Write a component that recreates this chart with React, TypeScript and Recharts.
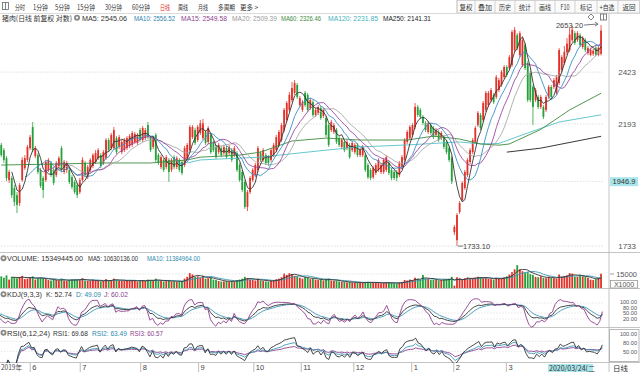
import React from 'react';
import { ComposedChart, Bar, Line, XAxis, YAxis, ReferenceLine, ReferenceDot } from 'recharts';

// ---------- data ----------
const opens = [
  2106,2085,2053,1968,1976,1938,1912,1883,1968,2014,
  2046,2093,2180,2061,2065,2007,1976,1968,2007,2034,
  2007,1987,2022,2093,1999,2007,2007,1979,1961,1949,
  1923,1968,2034,1979,2007,2022,2038,2053,2065,2034,
  2053,2126,2093,2093,2134,2098,2077,2085,2093,2102,
  2106,2118,2114,2167,2126,2134,2188,2134,2098,2147,
  2065,2018,2046,2018,2046,2007,2057,2018,2046,2038,
  2026,2053,2085,2138,2167,2126,2155,2134,2159,2118,
  2147,2114,2098,2077,2093,2073,2093,2073,2085,2065,
  2073,2026,1999,1961,1869,1923,1968,1987,2007,2073,
  2046,2065,2057,2046,2065,2085,2106,2126,2167,2210,
  2253,2296,2328,2364,2274,2253,2328,2319,2261,2287,
  2231,2240,2261,2227,2218,2188,2167,2159,2167,2134,
  2098,2118,2093,2106,2085,2077,2106,2065,2065,2065,
  2026,2007,1979,1995,2007,1999,1999,2007,2034,2007,
  1999,1999,1987,2018,2046,2118,2134,2147,2180,2266,
  2253,2223,2197,2159,2188,2176,2147,2159,2134,2138,
  2118,2093,2053,1780,1753,1851,1894,1938,1987,2038,
  2077,2118,2188,2231,2210,2253,2274,2296,2319,2310,
  2341,2364,2400,2447,2442,2456,2528,2602,2504,2456,
  2553,2466,2419,2355,2296,2310,2266,2266,2253,2310,
  2355,2355,2328,2373,2433,2466,2518,2528,2577,2612,
  2577,2602,2543,2577,2514,2505,2510,2540,2505,2510,
];
const highs = [
  2114,2093,2061,2007,1983,1949,1923,1957,2057,2065,
  2106,2147,2201,2102,2073,2014,1983,2046,2053,2042,
  2014,2042,2061,2102,2046,2042,2014,1987,1968,1957,
  1976,2057,2042,2026,2053,2073,2085,2093,2073,2085,
  2134,2134,2155,2180,2142,2147,2126,2134,2142,2151,
  2163,2159,2155,2176,2184,2176,2201,2142,2142,2155,
  2073,2065,2053,2065,2053,2053,2065,2061,2053,2046,
  2102,2114,2188,2188,2176,2188,2210,2214,2167,2184,
  2155,2122,2106,2114,2102,2106,2102,2106,2093,2102,
  2081,2034,2007,1968,1931,1983,2014,2034,2102,2081,
  2093,2073,2065,2093,2114,2147,2167,2197,2261,2292,
  2332,2377,2386,2373,2314,2296,2337,2328,2305,2296,
  2261,2274,2270,2261,2227,2197,2210,2197,2176,2142,
  2134,2126,2126,2114,2122,2114,2114,2093,2106,2073,
  2034,2014,2022,2034,2053,2034,2053,2065,2042,2014,
  2007,2007,2042,2065,2134,2167,2188,2197,2283,2274,
  2261,2231,2205,2205,2197,2184,2176,2167,2163,2147,
  2126,2102,2061,1805,1847,1890,1964,2007,2053,2093,
  2134,2184,2248,2240,2292,2337,2337,2350,2328,2410,
  2396,2433,2456,2456,2504,2628,2643,2612,2622,2587,
  2563,2475,2428,2364,2350,2319,2319,2274,2319,2364,
  2364,2396,2410,2538,2504,2548,2587,2638,2650,2622,
  2622,2612,2597,2587,2548,2540,2535,2550,2552,2653.2,
];
const lows = [
  2057,2034,1964,1957,1901,1872,1847,1872,1961,2007,
  2038,2085,2077,2053,1991,1938,1901,1961,1999,1979,
  1949,1979,2014,1999,1991,1995,1953,1934,1916,1901,
  1916,1961,1979,1972,1999,2014,2030,2046,2014,2026,
  2046,2077,2085,2085,2069,2089,2069,2077,2085,2093,
  2098,2110,2106,2118,2118,2126,2130,2077,2089,2038,
  2026,2010,1999,2010,1961,1999,2010,2010,1999,1987,
  2018,2046,2077,2130,2106,2118,2147,2126,2106,2110,
  2069,2077,2050,2069,2057,2065,2050,2065,2038,2057,
  1999,1961,1923,1862,1854,1916,1961,1979,1999,2038,
  2038,2026,2022,2038,2057,2077,2098,2118,2159,2201,
  2244,2287,2319,2301,2266,2244,2266,2244,2253,2223,
  2223,2231,2210,2218,2138,2098,2159,2151,2110,2098,
  2089,2077,2085,2050,2077,2069,2057,2057,2057,1999,
  1972,1968,1972,1987,1999,1991,1991,1999,1987,1968,
  1968,1964,1979,2010,2038,2110,2126,2138,2171,2223,
  2214,2188,2159,2151,2147,2130,2138,2118,2126,2089,
  2069,2038,1953,1770,1733.1,1844,1887,1931,1979,2030,
  2069,2110,2180,2167,2201,2244,2266,2287,2279,2301,
  2332,2355,2391,2400,2433,2447,2518,2528,2494,2447,
  2433,2287,2287,2188,2287,2257,2257,2214,2244,2301,
  2301,2346,2319,2364,2424,2456,2504,2518,2568,2553,
  2568,2543,2533,2518,2504,2498,2500,2498,2498,2502,
];
const closes = [
  2065,2046,1976,1999,1912,1887,1876,1949,2046,2053,
  2098,2138,2085,2093,1999,1946,1931,2038,2046,1987,
  1957,2034,2053,2007,2038,2034,1961,1942,1923,1912,
  1968,2046,1987,2018,2046,2065,2073,2085,2022,2077,
  2126,2085,2147,2167,2077,2138,2118,2126,2134,2142,
  2155,2151,2147,2126,2176,2167,2138,2085,2134,2046,
  2034,2057,2007,2057,1999,2046,2018,2053,2007,1995,
  2093,2106,2180,2180,2114,2180,2197,2197,2114,2176,
  2077,2085,2057,2106,2065,2098,2057,2098,2046,2093,
  2007,1968,1931,1869,1923,1976,2007,2026,2093,2046,
  2085,2034,2034,2085,2106,2138,2159,2188,2253,2283,
  2319,2350,2373,2310,2305,2287,2274,2253,2296,2231,
  2253,2266,2218,2253,2147,2106,2201,2188,2118,2106,
  2126,2085,2118,2057,2114,2106,2065,2085,2098,2007,
  1979,1976,2014,2026,2046,2026,2046,2057,1995,1976,
  1976,1976,2034,2057,2126,2159,2180,2188,2266,2231,
  2223,2197,2167,2197,2155,2138,2167,2126,2155,2098,
  2077,2046,1961,1798,1840,1883,1957,1999,2046,2085,
  2126,2176,2240,2176,2283,2328,2328,2341,2287,2400,
  2386,2424,2447,2410,2494,2617,2628,2538,2612,2577,
  2442,2296,2296,2266,2341,2266,2310,2223,2310,2355,
  2310,2386,2400,2528,2494,2520,2560,2605,2630,2563,
  2612,2553,2587,2528,2538,2530,2525,2505,2540,2625,
];
// volume, in thousands of shares
const volumes = [
  12500,11000,13500,9000,12000,11500,10500,12000,13000,9500,
  10000,11000,12500,9000,10000,11000,10500,9500,8500,8000,
  9000,8500,8000,10000,8000,7500,8500,9000,9500,9000,
  8500,10500,8000,7500,8000,8500,8000,7500,7000,7500,
  9500,8000,8500,10000,8500,8000,7500,8000,7500,8000,
  8500,7500,7000,8000,8500,7500,9000,8500,7500,10000,
  8000,7500,7000,7500,8500,7000,7000,6500,7000,7500,
  10000,12000,16000,14500,12000,12500,11000,13000,10000,10500,
  11000,9000,8500,7500,7000,7000,7500,7000,7500,7000,
  8500,9000,10000,12000,10500,9000,8500,8000,10000,8000,
  7500,7000,7000,8000,8500,9500,10000,11500,15500,14000,
  16000,15000,13000,12500,11000,10000,11500,11000,9500,10000,
  9000,8500,9000,8000,9500,10000,8000,7500,8000,7000,
  6500,6500,6000,6500,6000,5500,6000,5500,5500,6500,
  6500,6000,5500,5500,6000,5000,5500,6000,5500,5500,
  5000,5000,6000,6500,8500,8000,9000,8500,11000,10000,
  9000,14000,10000,9500,8500,9000,8500,8000,8500,9000,
  9500,10000,12000,2500,11500,10500,9500,10500,11000,10000,
  10500,11000,12000,11500,10500,11000,10000,9500,9000,11000,
  10000,10500,11500,12500,14500,17000,20000,24500,20000,18000,
  16500,17000,15000,14000,12000,11500,12500,11000,10500,12000,
  11000,10500,10000,14500,12000,13000,13500,16000,15500,12000,
  12000,13500,12500,11700,11000,9000,8500,9500,10800,15349,
];
// long moving averages as (candle index, value)
const ma60Known: [number, number][] = [
  [0,2026],[22,2030],[38,2034],[57,2034],[71,2046],[76,2057],[91,2065],[99,2077],
  [111,2122],[124,2134],[137,2126],[155,2126],[165,2142],[175,2130],[183,2110],
  [190,2105],[194,2110],[206,2170],[217,2253],[229,2326.46],
];
const ma120Known: [number, number][] = [
  [71,2034],[76,2046],[99,2057],[124,2085],[137,2098],[155,2106],[175,2118],
  [183,2110],[190,2112],[202,2159],[213,2201],[229,2231.85],
];
const ma250Known: [number, number][] = [[193,2077],[206,2093],[229,2141.31]];

const monthStarts = [12, 31, 54, 76, 97, 115, 135, 157, 173, 193];
const monthLabels = ['6', '7', '8', '9', '10', '11', '12', '1', '2', '3'];
const priceTicks = [1733, 2193, 2423];
const gridPrices = [1733, 1963, 2193, 2423];
const crossPrice = 1946.9;
const crossDate = '2020/03/24(二';
const highMark = { i: 229, v: 2653.2, label: '2653.20' };
const lowMark = { i: 174, v: 1733.1, label: '1733.10' };

// [text, colour, x, width]
const priceLegend = [
  ['MA5: 2545.06', '#333333', 82, 45], ['MA10: 2556.52', '#2d7fb0', 134, 41], ['MA15: 2549.58', '#8e3f8e', 181, 46],
  ['MA20: 2509.39', '#9a9a9a', 232, 45], ['MA60: 2326.46', '#3d8b3d', 281, 40], ['MA120: 2231.85', '#3fb3bb', 328, 50],
  ['MA250: 2141.31', '#222222', 383, 48],
] as const;
const volLegend = [['VOLUME: 15349445.00', '#333333', 7, 76], ['MA5: 10630136.00', '#333333', 88, 50], ['MA10: 11384964.00', '#2d8ab0', 147, 53]] as const;
const kdjLegend = [['KDJ(9,3,3)', '#333333', 7, 35], ['K: 52.74', '#333333', 46, 26], ['D: 49.09', '#2d8ab0', 76, 25], ['J: 60.02', '#8e3f8e', 104, 24]] as const;
const rsiLegend = [['RSI(6,12,24)', '#333333', 7, 43], ['RSI1: 69.68', '#333333', 53, 35], ['RSI2: 63.49', '#2d8ab0', 92, 35], ['RSI3: 60.57', '#8e3f8e', 130, 33]] as const;
const toolbarItems = [
  ['分时', 15, 10], ['1分钟', 33, 15], ['5分钟', 55, 15], ['15分钟', 77, 18], ['30分钟', 105, 17], ['60分钟', 132, 18],
  ['日线', 160, 10], ['周线', 178, 10], ['月线', 198, 10], ['多周期', 218, 17], ['更多 >', 240, 18],
] as const;
const buttonSeps = [457, 475, 495, 515, 535, 555, 575, 597, 618];
const buttons = [['复权', 466, 13], ['叠加', 485, 14], ['历史', 505, 12], ['统计', 525, 12], ['画线', 545, 12], ['F10', 565, 9], ['标记', 586, 12], ['+自选', 607, 15], ['返回', 629, 13]] as const;

// ---------- derived ----------
const N = closes.length;
const W = 640;
const AXIS_W = 37.6;
const PLOT_W = W - AXIS_W;
const BAND = PLOT_W / N;
const RED = '#e23128';
const GREEN = '#25a03a';
const SANS = "'Liberation Sans', Arial, sans-serif";
const CJK = "'Noto Sans CJK SC', 'Noto Sans', sans-serif";

function movingAvg(src: number[], n: number) {
  return src.map((_, i) => {
    if (i < n - 1) return null;
    let s = 0;
    for (let k = i - n + 1; k <= i; k++) s += src[k];
    return s / n;
  });
}
function sparse(pts: [number, number][]) {
  const a: (number | null)[] = new Array(N).fill(null);
  pts.forEach(([i, v]) => { a[i] = v; });
  return a;
}
function rsi(n: number) {
  let up = 0, ab = 0;
  return closes.map((c, i) => {
    if (i === 0) return null;
    const df = c - closes[i - 1];
    up = (Math.max(df, 0) + (n - 1) * up) / n;
    ab = (Math.abs(df) + (n - 1) * ab) / n;
    return ab === 0 ? 50 : (up / ab) * 100;
  });
}
const kArr: number[] = [], dArr: number[] = [], jArr: number[] = [];
(() => {
  let k = 50, d = 50;
  for (let i = 0; i < N; i++) {
    const s = Math.max(0, i - 8);
    const lo = Math.min(...lows.slice(s, i + 1));
    const hi = Math.max(...highs.slice(s, i + 1));
    const rsv = hi === lo ? 50 : ((closes[i] - lo) / (hi - lo)) * 100;
    k = (2 * k + rsv) / 3;
    d = (2 * d + k) / 3;
    kArr.push(k); dArr.push(d); jArr.push(3 * k - 2 * d);
  }
})();
const ma5 = movingAvg(closes, 5), ma10 = movingAvg(closes, 10), ma15 = movingAvg(closes, 15), ma20 = movingAvg(closes, 20);
const vma5 = movingAvg(volumes, 5), vma10 = movingAvg(volumes, 10);
const ma60 = sparse(ma60Known), ma120 = sparse(ma120Known), ma250 = sparse(ma250Known);
const r6 = rsi(6), r12 = rsi(12), r24 = rsi(24);

const rows = closes.map((c, i) => ({
  i, open: opens[i], high: highs[i], low: lows[i], close: c,
  range: [lows[i], highs[i]], up: c >= opens[i], vol: volumes[i],
  ma5: ma5[i], ma10: ma10[i], ma15: ma15[i], ma20: ma20[i],
  ma60: ma60[i], ma120: ma120[i], ma250: ma250[i],
  vma5: vma5[i], vma10: vma10[i], k: kArr[i], d: dArr[i], j: jArr[i],
  r6: r6[i], r12: r12[i], r24: r24[i],
}));

// ---------- shapes ----------
const CandleShape = (props: any) => {
  const d = props.payload && props.payload.open !== undefined ? props.payload : rows[props.index];
  if (!d) return null;
  const top = Math.min(props.y, props.y + props.height);
  const bot = Math.max(props.y, props.y + props.height);
  const lh = Math.log(d.high), ll = Math.log(d.low);
  const py = (p: number) => (lh === ll ? top : top + ((lh - Math.log(p)) / (lh - ll)) * (bot - top));
  const cx = props.x + props.width / 2;
  const color = d.close >= d.open ? RED : GREEN;
  const bt = py(Math.max(d.open, d.close));
  const bb = py(Math.min(d.open, d.close));
  return (
    <g>
      <line x1={cx} x2={cx} y1={top} y2={bot} stroke={color} strokeWidth={0.8} />
      <rect x={cx - 0.9} y={bt} width={1.8} height={Math.max(bb - bt, 0.8)} fill={color} />
    </g>
  );
};
const VolShape = (props: any) => {
  const d = props.payload && props.payload.vol !== undefined ? props.payload : rows[props.index];
  if (!d) return null;
  const cx = props.x + props.width / 2;
  const top = Math.min(props.y, props.y + props.height);
  return <rect x={cx - 0.9} y={top} width={1.8} height={Math.abs(props.height)} fill={d.up ? RED : GREEN} />;
};
const PriceTick = (p: any) => (
  <text x={636} y={p.y + 3} textAnchor="end" fontSize={8} fill="#555" fontFamily={SANS}>{p.payload.value}</text>
);
const VolTick = (p: any) => (
  <g>
    <line x1={610} x2={614} y1={p.y} y2={p.y} stroke="#888" strokeWidth={0.8} />
    <text x={637} y={p.y + 3} textAnchor="end" fontSize={7.5} fill="#555" fontFamily={SANS}>{p.payload.value}</text>
  </g>
);
// the two top labels sit very close together, as in the reference; nudge them apart slightly
const tickNudge: Record<number, number> = { 100: -1.2, 80: 1.2 };
const FixedTick = (p: any) => (
  <text x={637} y={p.y + 2.2 + (tickNudge[p.payload.value] || 0)} textAnchor="end" fontSize={5.6} fill="#555" fontFamily={SANS}>
    {Number(p.payload.value).toFixed(2)}
  </text>
);
const MonthTick = (p: any) => {
  const k = monthStarts.indexOf(p.payload.value);
  const bx = p.x - BAND / 2;
  return (
    <g>
      <line x1={bx} x2={bx} y1={35} y2={44} stroke="#aaa" strokeWidth={0.8} />
      <text x={bx + 2} y={42} fontSize={7.5} fill="#444" fontFamily={SANS}>{monthLabels[k]}</text>
    </g>
  );
};
const HighMarkShape = (p: any) => (
  <g>
    <text x={p.cx - 18} y={p.cy + 3} textAnchor="end" fontSize={7.5} fill="#444" fontFamily={SANS}>{highMark.label}</text>
    <line x1={p.cx - 17} y1={p.cy} x2={p.cx - 4} y2={p.cy - 1} stroke="#555" strokeWidth={0.8} />
    <path d={`M${p.cx - 6},${p.cy - 3} L${p.cx - 3},${p.cy - 1} L${p.cx - 6},${p.cy + 1}`} fill="none" stroke="#555" strokeWidth={0.8} />
  </g>
);
const LowMarkShape = (p: any) => (
  <g>
    <line x1={p.cx + 1} y1={p.cy} x2={p.cx + 6} y2={p.cy} stroke="#555" strokeWidth={0.8} />
    <text x={p.cx + 6} y={p.cy + 3} fontSize={7.5} fill="#444" fontFamily={SANS}>{lowMark.label}</text>
  </g>
);
const CrossPriceShape = (p: any) => (
  <g>
    <rect x={610} y={p.cy - 8.5} width={28} height={9} fill="#a9e6ec" />
    <text x={624} y={p.cy - 1.5} textAnchor="middle" fontSize={7.5} fill="#333" fontFamily={SANS}>{crossPrice}</text>
  </g>
);

const lineProps = { dot: false, isAnimationActive: false, strokeWidth: 0.9, activeDot: false } as const;

const Legend = ({ items, y }: { items: readonly (readonly [string, string, number, number])[]; y: number }) => (
  <g>
    <circle cx={3.5} cy={y - 2.8} r={3} fill="#8a8a8a" />
    <circle cx={3.5} cy={y - 2.8} r={1.1} fill="#fff" />
    {items.map(([t, c, x, w]) => (
      <text key={t} x={x} y={y} fontSize={7.3} fill={c} fontFamily={SANS} textLength={w} lengthAdjust="spacingAndGlyphs">{t}</text>
    ))}
  </g>
);

export default function App() {
  return (
    <div style={{ position: 'absolute', left: 0, top: 0, width: W, height: 372, background: '#fff', overflow: 'hidden' }}>
      <svg width={W} height={372} style={{ position: 'absolute', left: 0, top: 0 }}>
        {/* toolbar */}
        <rect x={2.5} y={2.5} width={6} height={7} fill="none" stroke="#666" strokeWidth={0.8} />
        <line x1={5.5} x2={5.5} y1={2.5} y2={9.5} stroke="#666" strokeWidth={0.8} />
        {toolbarItems.map(([t, x, w]) => (
          <text key={t} x={x} y={9.5} fontSize={7.2} fill={t === '日线' ? '#e0302a' : '#333'} fontFamily={CJK}
            textLength={w} lengthAdjust="spacingAndGlyphs">{t}</text>
        ))}
        <rect x={457} y={0.5} width={182.5} height={12.5} fill="#fafafa" stroke="#c8c8c8" strokeWidth={0.8} />
        {buttonSeps.map((x) => (
          <line key={x} x1={x} x2={x} y1={0} y2={13} stroke="#c8c8c8" strokeWidth={0.8} />
        ))}
        {buttons.map(([t, x, w]) => (
          <text key={t} x={x - w / 2} y={9.5} fontSize={7.2} fill="#333" fontFamily={CJK}
            textLength={w} lengthAdjust="spacingAndGlyphs">{t}</text>
        ))}
        <line x1={0} x2={W} y1={13.5} y2={13.5} stroke="#d0d0d0" strokeWidth={0.8} />
        {/* header */}
        <text x={2} y={20.5} fontSize={7.2} fill="#333" fontFamily={CJK} textLength={70} lengthAdjust="spacingAndGlyphs">猪肉(日线 前复权 对数)</text>
        <circle cx={77} cy={17.7} r={3} fill="#8a8a8a" />
        <circle cx={77} cy={17.7} r={1.1} fill="#fff" />
        {priceLegend.map(([t, c, x, w]) => (
          <text key={t} x={x} y={20.5} fontSize={7.4} fill={c} fontFamily={SANS} textLength={w} lengthAdjust="spacingAndGlyphs">{t}</text>
        ))}
        <path d="M591,14 L594,17 L591,20 L588,17 Z" fill="none" stroke="#666" strokeWidth={0.8} />
        <rect x={600.5} y={14} width={6} height={6} fill="none" stroke="#666" strokeWidth={0.8} />
        <line x1={603.5} x2={603.5} y1={14} y2={20} stroke="#666" strokeWidth={0.8} />
        {/* separators */}
        <line x1={609} x2={609} y1={13.5} y2={372} stroke="#b5b5b5" strokeWidth={0.8} />
        {[252.5, 288.5, 327.5, 362.5].map((y) => (
          <line key={y} x1={0} x2={W} y1={y} y2={y} stroke="#b5b5b5" strokeWidth={0.8} />
        ))}
        <Legend items={volLegend} y={261} />
        <Legend items={kdjLegend} y={297} />
        <Legend items={rsiLegend} y={335.5} />
        <rect x={610.5} y={280.5} width={27} height={7.5} fill="none" stroke="#999" strokeWidth={0.8} />
        <text x={624} y={286.8} textAnchor="middle" fontSize={7} fill="#555" fontFamily={SANS}>X1000</text>
        <rect x={609.5} y={329.5} width={29.5} height={32} fill="none" stroke="#a8a8a8" strokeWidth={0.8} />
        {/* date row */}
        <text x={1} y={370} fontSize={7.2} fill="#444" fontFamily={CJK} textLength={21} lengthAdjust="spacingAndGlyphs">2019年</text>
        <rect x={548} y={364} width={45} height={8} fill="#a9e6ec" />
        <text x={549} y={370.5} fontSize={7.2} fill="#333" fontFamily={CJK} textLength={46} lengthAdjust="spacingAndGlyphs">{crossDate}</text>
        <text x={613} y={370.5} fontSize={7.2} fill="#333" fontFamily={CJK} textLength={15} lengthAdjust="spacingAndGlyphs">日线</text>
      </svg>

      {/* price panel */}
      <div style={{ position: 'absolute', left: 0, top: 0 }}>
        <ComposedChart width={W} height={253} data={rows} margin={{ top: 24.5, right: 0, bottom: 6, left: 0 }} barCategoryGap="10%">
          <XAxis dataKey="i" hide />
          <YAxis orientation="right" scale="log" domain={[1730, 2656]} allowDataOverflow ticks={priceTicks} interval={0}
            width={AXIS_W} axisLine={false} tickLine={false} tick={PriceTick} />
          {gridPrices.map((p) => (
            <ReferenceLine key={p} y={p} stroke="#c4c4c4" strokeDasharray="1 2" strokeWidth={0.8} />
          ))}
          <Bar dataKey="range" shape={CandleShape} isAnimationActive={false} />
          <Line dataKey="ma250" stroke="#222222" connectNulls {...lineProps} />
          <Line dataKey="ma120" stroke="#52c2ca" connectNulls {...lineProps} />
          <Line dataKey="ma60" stroke="#3d8b3d" connectNulls {...lineProps} />
          <Line dataKey="ma20" stroke="#a8a8a8" {...lineProps} />
          <Line dataKey="ma15" stroke="#9b4aa0" {...lineProps} />
          <Line dataKey="ma10" stroke="#3b8fc4" {...lineProps} />
          <Line dataKey="ma5" stroke="#333333" {...lineProps} />
          <ReferenceDot x={highMark.i} y={highMark.v} r={0} shape={HighMarkShape} />
          <ReferenceDot x={lowMark.i} y={lowMark.v} r={0} shape={LowMarkShape} />
          <ReferenceDot x={0} y={crossPrice} r={0} shape={CrossPriceShape} />
        </ComposedChart>
      </div>

      {/* volume panel */}
      <div style={{ position: 'absolute', left: 0, top: 253 }}>
        <ComposedChart width={W} height={36} data={rows} margin={{ top: 9, right: 0, bottom: 1, left: 0 }} barCategoryGap="10%">
          <XAxis dataKey="i" hide />
          <YAxis orientation="right" domain={[0, 27857]} allowDataOverflow ticks={[15000]} interval={0}
            width={AXIS_W} axisLine={false} tickLine={false} tick={VolTick} />
          <ReferenceLine y={15000} stroke="#cfcfcf" strokeDasharray="1 2" strokeWidth={0.8} />
          <Bar dataKey="vol" shape={VolShape} isAnimationActive={false} />
          <Line dataKey="vma10" stroke="#3a9ab5" {...lineProps} />
          <Line dataKey="vma5" stroke="#333333" {...lineProps} />
        </ComposedChart>
      </div>

      {/* KDJ panel */}
      <div style={{ position: 'absolute', left: 0, top: 289 }}>
        <ComposedChart width={W} height={39} data={rows} margin={{ top: 9, right: 0, bottom: 0, left: 0 }}>
          <XAxis dataKey="i" hide />
          <YAxis orientation="right" domain={[-25, 125]} allowDataOverflow ticks={[20, 50, 80, 100]} interval={0}
            width={AXIS_W} axisLine={false} tickLine={false} tick={FixedTick} />
          {[20, 50, 100].map((v) => (
            <ReferenceLine key={v} y={v} stroke="#cfcfcf" strokeDasharray="1 2" strokeWidth={0.8} />
          ))}
          <Line dataKey="d" stroke="#3a97b8" {...lineProps} />
          <Line dataKey="k" stroke="#333333" {...lineProps} />
          <Line dataKey="j" stroke="#8e3f8e" {...lineProps} />
        </ComposedChart>
      </div>

      {/* RSI panel + date axis */}
      <div style={{ position: 'absolute', left: 0, top: 328 }}>
        <ComposedChart width={W} height={44} data={rows} margin={{ top: 5, right: 0, bottom: 0, left: 0 }}>
          <XAxis dataKey="i" ticks={monthStarts} interval={0} height={9} axisLine={false} tickLine={false} tick={MonthTick} />
          <YAxis orientation="right" domain={[15, 105]} allowDataOverflow ticks={[50, 80, 100]} interval={0}
            width={AXIS_W} axisLine={false} tickLine={false} tick={FixedTick} />
          {[50, 80].map((v) => (
            <ReferenceLine key={v} y={v} stroke="#cfcfcf" strokeDasharray="1 2" strokeWidth={0.8} />
          ))}
          <Line dataKey="r24" stroke="#8e3f8e" {...lineProps} />
          <Line dataKey="r12" stroke="#3a97b8" {...lineProps} />
          <Line dataKey="r6" stroke="#333333" {...lineProps} />
        </ComposedChart>
      </div>
    </div>
  );
}
